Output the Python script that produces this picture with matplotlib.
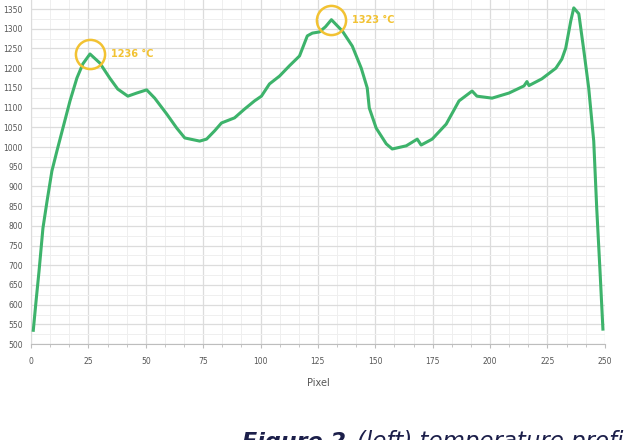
import numpy as np
import matplotlib.pyplot as plt
from matplotlib.ticker import MultipleLocator, AutoMinorLocator

# temperature profile along the strip (pixel index -> degC)
pixel = [1, 2.2, 3.5, 5.2, 7.0, 9.1, 11.3, 13.9, 17.0, 20.0, 22.6, 25.7, 30.0,
         34.3, 37.8, 42.2, 46.1, 50.4, 53.9, 59.1, 63.5, 67.0, 73.5, 76.5, 80.0,
         83.0, 88.7, 93.0, 97.4, 100.4, 103.9, 108.3, 112.6, 117.0, 120.4, 122.6,
         125.7, 128.3, 130.9, 135.7, 140.0, 143.9, 146.5, 147.4, 150.4, 154.8,
         157.4, 163.5, 168.3, 170.0, 174.8, 180.9, 186.5, 192.2, 194.3, 200.9,
         208.3, 214.8, 216.1, 217.0, 222.6, 228.7, 231.3, 233.0, 235.2, 236.5,
         238.7, 240.9, 243.0, 245.2, 246.5, 248.0, 249.2]
temp = [535, 609, 685, 794, 863, 939, 990, 1048, 1117, 1175, 1211, 1236, 1213,
        1175, 1147, 1129, 1137, 1145, 1124, 1084, 1048, 1023, 1015, 1020, 1041,
        1061, 1074, 1096, 1117, 1129, 1160, 1180, 1206, 1231, 1282, 1289,
        1292, 1305, 1323, 1294, 1256, 1200, 1150, 1099, 1048, 1008,
        995, 1003, 1020, 1005, 1020, 1058, 1117, 1142, 1129, 1124,
        1137, 1155, 1166, 1156, 1173, 1200, 1223, 1251, 1320, 1353,
        1338, 1244, 1150, 1015, 845, 678, 538]

# highlighted local peaks
peak_idx = [11, 38]

green = '#3db36b'
gold = '#f2c232'
caption_col = '#1c1f4a'

fig = plt.figure(figsize=(6.25, 4.4), dpi=100)
ax = fig.add_axes([0.0496, 0.218, 0.918, 0.782])

ax.plot(pixel, temp, color=green, linewidth=2.2, solid_joinstyle='round', zorder=3)

for i in peak_idx:
    ax.plot(pixel[i], temp[i], 'o', ms=21, mfc='none', mec=gold, mew=1.8, zorder=4)
    ax.annotate(f'{temp[i]} °C', (pixel[i], temp[i]), xytext=(15, 0),
                textcoords='offset points', va='center', ha='left',
                color=gold, fontsize=7, fontweight='bold')

ax.set_xlim(0, 250)
ax.set_ylim(500, 1373)
ax.xaxis.set_major_locator(MultipleLocator(25))
ax.xaxis.set_minor_locator(AutoMinorLocator(3))
ax.yaxis.set_major_locator(MultipleLocator(50))
ax.yaxis.set_minor_locator(AutoMinorLocator(2))

ax.grid(which='major', color='#dcdcdc', linewidth=0.9)
ax.grid(which='minor', color='#efefef', linewidth=0.7)
ax.set_axisbelow(True)

for side in ['top', 'right']:
    ax.spines[side].set_visible(False)
ax.spines['left'].set_color('#dcdcdc')
ax.spines['bottom'].set_color('#bdbdbd')

ax.tick_params(axis='both', which='both', labelsize=5.5, labelcolor='#555555')
ax.tick_params(axis='y', which='both', length=0, pad=6)
ax.tick_params(axis='x', which='major', length=3, color='#bdbdbd', pad=6)
ax.tick_params(axis='x', which='minor', length=2, color='#bdbdbd')

ax.set_xlabel('Pixel', fontsize=7, color='#555555', labelpad=9)

# figure caption below the chart, sharing one baseline
fig.text(0.387, -0.018, 'Figure 2', fontsize=16, fontweight='bold', style='italic',
         color=caption_col, va='baseline', ha='left')
fig.text(0.571, -0.018, '(left) temperature profile', fontsize=16.5, style='italic',
         color=caption_col, va='baseline', ha='left')

fig.savefig('out.png', dpi=100)
